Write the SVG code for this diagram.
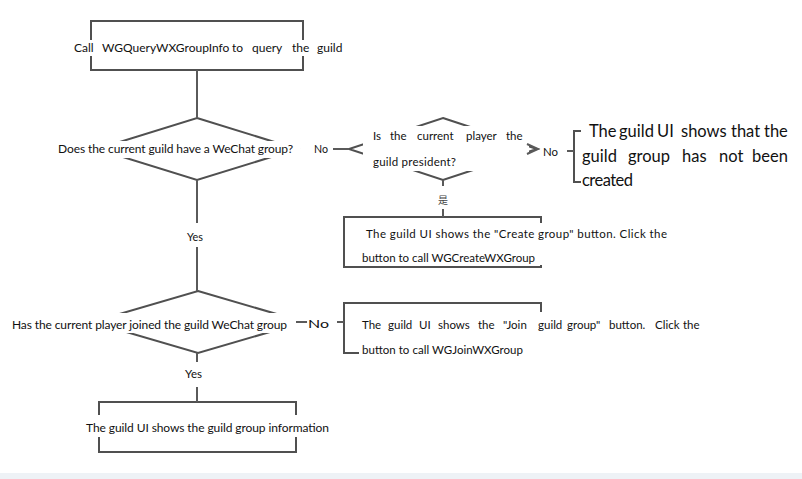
<svg xmlns="http://www.w3.org/2000/svg" width="802" height="479" viewBox="0 0 802 479">
<style>
.ln{stroke:#505050;stroke-width:2;fill:none}
.cn{stroke:#5a5a5a;stroke-width:2;fill:none}
.bg{fill:#fff}
.t{font-family:Lato,"Open Sans",sans-serif;font-size:12px;fill:#111}
.big{font-size:16.5px}
.sm{font-size:11.5px}
</style>
<rect x="0" y="0" width="802" height="479" fill="#fff"/>
<rect x="0" y="473" width="802" height="6" fill="#eef2f6"/>
<g id="box1">
<rect class="ln" x="91" y="21" width="212" height="49"/>
<rect class="bg" x="72" y="40" width="274" height="16"/>
<text class="t" y="52"><tspan x="74">Call</tspan> <tspan x="102">WGQueryWXGroupInfo</tspan> <tspan x="232">to</tspan> <tspan x="252">query</tspan> <tspan x="292">the</tspan> <tspan x="317">guild</tspan></text>
</g>
<g id="decision1">
<polygon class="ln" points="197,118 297,149 197,180 97,149"/>
<rect class="bg" x="56" y="141" width="244" height="17"/>
<text class="t" x="58" y="153" textLength="235" lengthAdjust="spacing">Does the current guild have a WeChat group?</text>
</g>
<g id="decision2">
<polygon class="ln" points="443,118 537,149 443,180 349,149"/>
<rect class="bg" x="363" y="126" width="166" height="45"/>
<text class="t sm" y="140"><tspan x="373">Is</tspan> <tspan x="390">the</tspan> <tspan x="417">current</tspan> <tspan x="466">player</tspan> <tspan x="506">the</tspan></text>
<text class="t sm" x="373" y="166" textLength="83" lengthAdjust="spacing">guild president?</text>
</g>
<g id="box3">
<path class="ln" d="M581,131 H574 V182 H581"/>
<text class="t big" y="137"><tspan x="589">The</tspan> <tspan x="619">guild</tspan> <tspan x="657">UI</tspan> <tspan x="681">shows</tspan> <tspan x="731">that</tspan> <tspan x="764">the</tspan></text>
<text class="t big" y="162"><tspan x="582">guild</tspan> <tspan x="628">group</tspan> <tspan x="682">has</tspan> <tspan x="719">not</tspan> <tspan x="752">been</tspan></text>
<text class="t big" x="582" y="186" textLength="51" lengthAdjust="spacing">created</text>
</g>
<g id="box4">
<rect class="ln" x="344" y="217" width="197" height="50"/>
<rect class="bg" x="359" y="223" width="312" height="42"/>
<text class="t sm" x="366" y="238" textLength="301" lengthAdjust="spacing">The guild UI shows the "Create group" button. Click the</text>
<text class="t sm" x="362" y="262" textLength="173" lengthAdjust="spacing">button to call WGCreateWXGroup</text>
</g>
<g id="decision3">
<polygon class="ln" points="198,291 304,322 198,353 92,322"/>
<rect class="bg" x="10" y="313" width="296" height="20"/>
<text class="t" x="12" y="329" textLength="275" lengthAdjust="spacing">Has the current player joined the guild WeChat group</text>
</g>
<g id="box5">
<rect class="ln" x="344" y="303" width="197" height="50"/>
<rect class="bg" x="359" y="312" width="346" height="48"/>
<text class="t sm" y="329"><tspan x="362">The</tspan> <tspan x="388">guild</tspan> <tspan x="419">UI</tspan> <tspan x="438">shows</tspan> <tspan x="478">the</tspan> <tspan x="503">"Join</tspan> <tspan x="538">guild</tspan> <tspan x="567">group"</tspan> <tspan x="609">button.</tspan> <tspan x="655">Click</tspan> <tspan x="683">the</tspan></text>
<text class="t sm" x="362" y="354" textLength="161" lengthAdjust="spacing">button to call WGJoinWXGroup</text>
</g>
<g id="box6">
<rect class="ln" x="99" y="402" width="197" height="50"/>
<rect class="bg" x="84" y="415" width="248" height="22"/>
<text class="t" x="86" y="432" textLength="243" lengthAdjust="spacing">The guild UI shows the guild group information</text>
</g>
<g id="connectors">
<line class="cn" x1="197" y1="70" x2="197" y2="118"/>
<line class="cn" x1="197" y1="180" x2="197" y2="223"/>
<line class="cn" x1="197" y1="247" x2="197" y2="291"/>
<text class="t" x="187" y="241" textLength="16" lengthAdjust="spacingAndGlyphs">Yes</text>
<text class="t" x="314" y="153" textLength="14" lengthAdjust="spacingAndGlyphs">No</text>
<line class="cn" x1="333" y1="149" x2="349" y2="149" stroke-width="2.5"/>
<path class="cn" d="M527,144 L538,149 L527,154" stroke-width="2.5"/>
<text class="t sm" x="543" y="156" textLength="15" lengthAdjust="spacingAndGlyphs">No</text>
<line class="cn" x1="567" y1="151" x2="574" y2="151"/>
<line class="cn" x1="443" y1="180" x2="443" y2="186"/>
<text x="443" y="204" text-anchor="middle" font-family="'Noto Sans CJK SC',sans-serif" font-size="10" fill="#444">是</text>
<line class="cn" x1="443" y1="209" x2="443" y2="217"/>
<line class="cn" x1="296" y1="322" x2="307" y2="322" stroke-width="2.5"/>
<text class="t" x="308" y="328" font-size="15" textLength="21" lengthAdjust="spacingAndGlyphs" fill="#1a2a50">No</text>
<line class="cn" x1="337" y1="322" x2="344" y2="322"/>
<line class="cn" x1="197" y1="353" x2="197" y2="362"/>
<text class="t" x="185" y="378" textLength="17" lengthAdjust="spacingAndGlyphs">Yes</text>
<line class="cn" x1="197" y1="387" x2="197" y2="402"/>
</g>
</svg>
